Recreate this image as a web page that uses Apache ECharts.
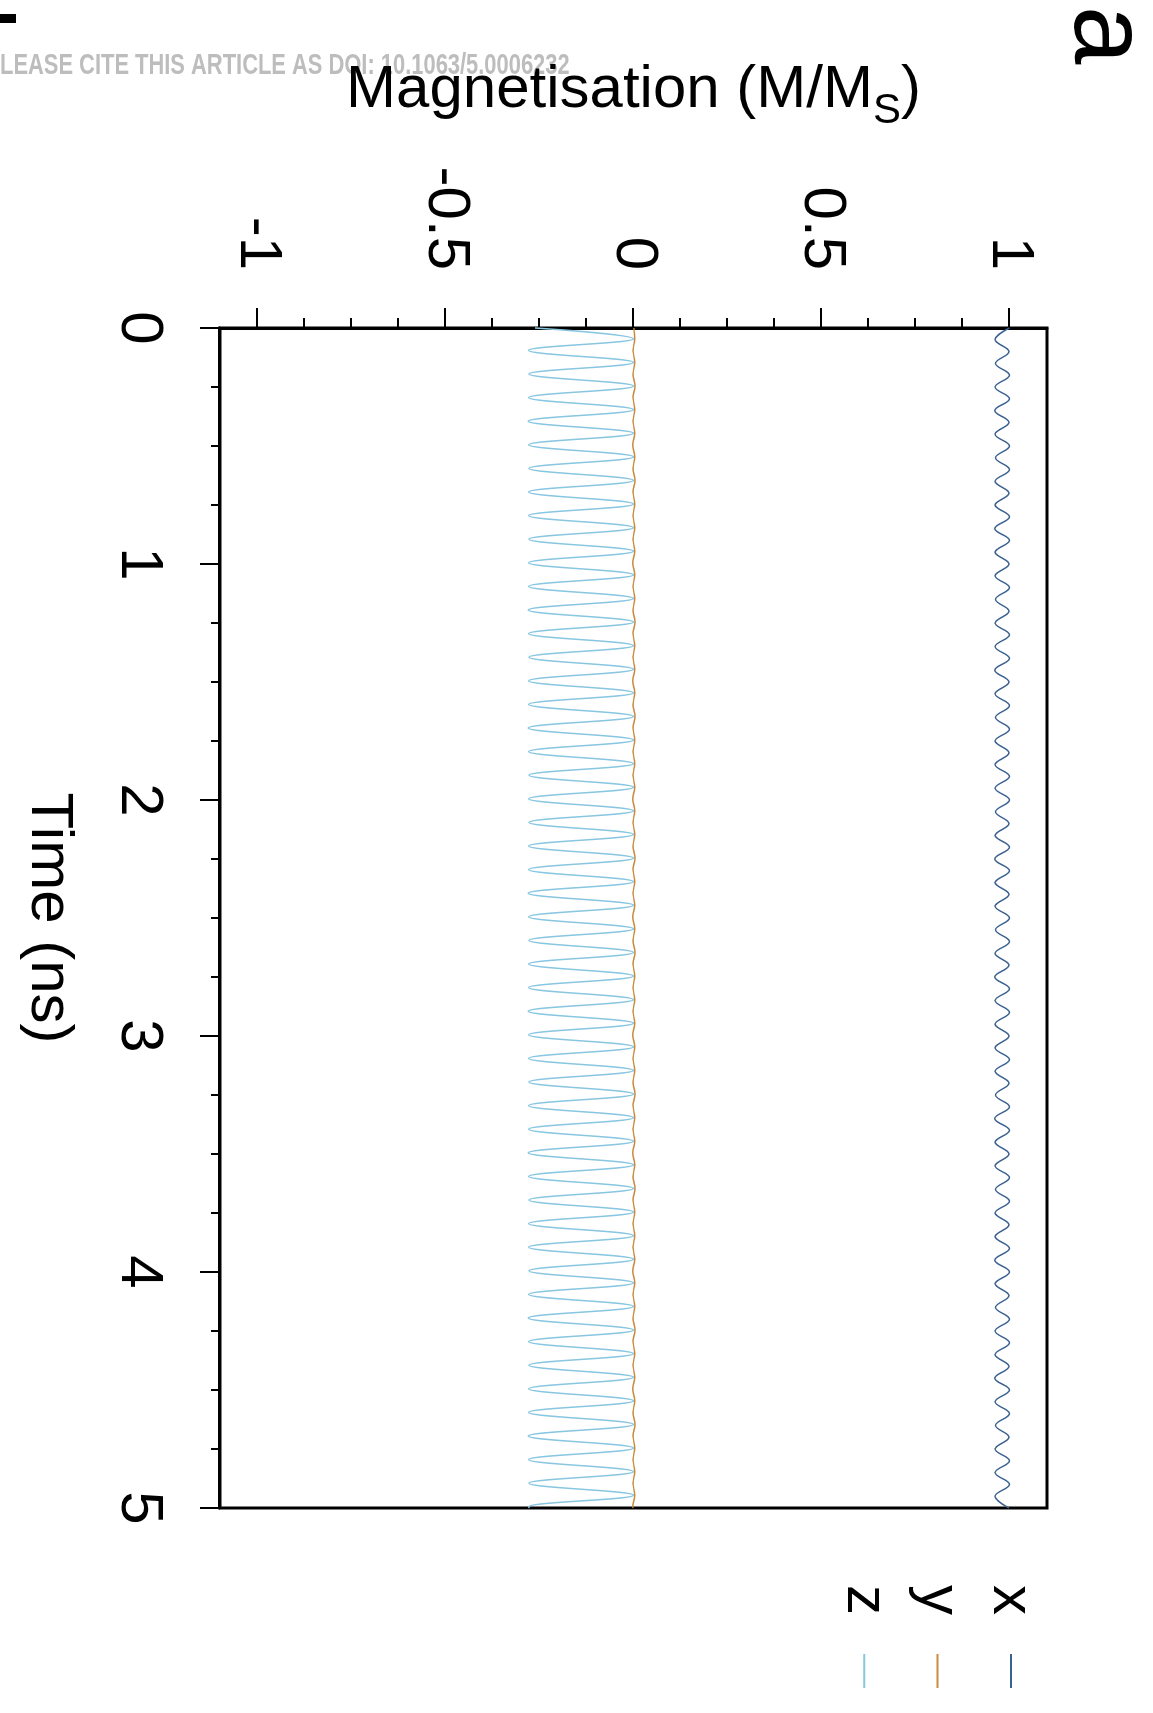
<!DOCTYPE html>
<html>
<head>
<meta charset="utf-8">
<script src="https://cdn.jsdelivr.net/npm/echarts/dist/echarts.min.js"></script>
<style>
html,body{margin:0;padding:0;overflow:hidden;background:#fff;}
#c{position:absolute;left:0;top:0;width:1713px;height:1153px;transform-origin:0 0;transform:translate(1153px,0) rotate(90deg);}
</style>
</head>
<body>
<div id="c"></div>
<script>
// ---- data (time in ns, magnetisation in M/Ms) ----
const seriesNames = ['x', 'y', 'z'];
const seriesColors = ['#3b6190', '#c98b3e', '#88c6e1'];

// turning points of the z and y components
const tZ = [0,
0.046,0.095,0.146,0.195,0.246,0.295,0.346,0.395,0.446,0.495,0.546,0.595,0.646,0.695,0.746,0.795,0.846,0.895,0.946,0.995,
1.046,1.095,1.146,1.195,1.246,1.295,1.346,1.395,1.446,1.495,1.546,1.595,1.646,1.695,1.746,1.795,1.846,1.895,1.946,1.995,
2.046,2.095,2.146,2.195,2.246,2.295,2.346,2.395,2.446,2.495,2.546,2.595,2.646,2.695,2.746,2.795,2.846,2.895,2.946,2.995,
3.046,3.095,3.146,3.195,3.246,3.295,3.346,3.395,3.446,3.495,3.546,3.595,3.646,3.695,3.746,3.795,3.846,3.895,3.946,3.995,
4.046,4.095,4.146,4.195,4.246,4.295,4.346,4.395,4.446,4.495,4.546,4.595,4.646,4.695,4.746,4.795,4.846,4.895,4.946,4.995,
5];
const mz = [-0.262,
0,-0.279,0,-0.278,0,-0.279,0,-0.28,0,-0.279,0,-0.278,0,-0.279,0,-0.279,0,-0.278,0,-0.279,
0,-0.279,0,-0.28,0,-0.279,0,-0.278,0,-0.279,0,-0.279,0,-0.28,0,-0.279,0,-0.278,0,-0.279,
0,-0.278,0,-0.279,0,-0.279,0,-0.28,0,-0.279,0,-0.278,0,-0.279,0,-0.279,0,-0.28,0,-0.279,
0,-0.279,0,-0.278,0,-0.279,0,-0.279,0,-0.28,0,-0.279,0,-0.278,0,-0.279,0,-0.279,0,-0.278,
0,-0.279,0,-0.28,0,-0.279,0,-0.278,0,-0.279,0,-0.279,0,-0.28,0,-0.279,0,-0.278,0,-0.279,
-0.277];
const my = [0.001,
0.003,-0.001,0.003,-0.001,0.004,-0.001,0.003,-0.001,0.003,-0.002,0.003,-0.001,0.004,-0.001,0.003,-0.001,0.003,-0.001,0.003,-0.002,
0.003,-0.001,0.003,-0.001,0.004,-0.001,0.003,-0.001,0.003,-0.002,0.003,-0.001,0.004,-0.001,0.003,-0.001,0.003,-0.001,0.003,-0.002,
0.003,-0.001,0.003,-0.001,0.004,-0.001,0.003,-0.001,0.003,-0.002,0.003,-0.001,0.004,-0.001,0.003,-0.001,0.003,-0.001,0.003,-0.002,
0.003,-0.001,0.003,-0.001,0.004,-0.001,0.003,-0.001,0.003,-0.002,0.003,-0.001,0.004,-0.001,0.003,-0.001,0.003,-0.001,0.003,-0.002,
0.003,-0.001,0.003,-0.001,0.004,-0.001,0.003,-0.001,0.003,-0.002,0.003,-0.001,0.004,-0.001,0.003,-0.001,0.003,-0.001,0.003,-0.002,
-0.001];

// turning points of the x component
const tX = [0,
0.05,0.1,0.15,0.2,0.25,0.3,0.35,0.4,0.45,0.5,0.55,0.6,0.65,0.7,0.75,0.8,0.85,0.9,0.95,1,
1.05,1.1,1.15,1.2,1.25,1.3,1.35,1.4,1.45,1.5,1.55,1.6,1.65,1.7,1.75,1.8,1.85,1.9,1.95,2,
2.05,2.1,2.15,2.2,2.25,2.3,2.35,2.4,2.45,2.5,2.55,2.6,2.65,2.7,2.75,2.8,2.85,2.9,2.95,3,
3.05,3.1,3.15,3.2,3.25,3.3,3.35,3.4,3.45,3.5,3.55,3.6,3.65,3.7,3.75,3.8,3.85,3.9,3.95,4,
4.05,4.1,4.15,4.2,4.25,4.3,4.35,4.4,4.45,4.5,4.55,4.6,4.65,4.7,4.75,4.8,4.85,4.9,4.95,5];
const mx = [1.0,
0.962,0.999,0.963,1.0,0.962,1.0,0.961,0.999,0.962,1.0,0.963,1.0,0.962,0.999,0.962,1.0,0.961,1.0,0.962,0.999,
0.962,1.0,0.963,0.999,0.962,1.0,0.962,1.0,0.961,0.999,0.962,1.0,0.963,1.0,0.962,0.999,0.962,1.0,0.962,1.0,
0.963,0.999,0.962,1.0,0.961,1.0,0.962,0.999,0.962,1.0,0.963,1.0,0.962,0.999,0.961,1.0,0.962,1.0,0.962,0.999,
0.962,1.0,0.962,0.999,0.963,1.0,0.961,1.0,0.962,0.999,0.962,1.0,0.963,1.0,0.962,0.999,0.962,1.0,0.961,1.0,
0.962,0.999,0.963,1.0,0.962,1.0,0.962,0.999,0.961,1.0,0.962,1.0,0.963,0.999,0.962,1.0,0.962,1.0,0.962,0.999];

// axis ticks
const magMajorTicks = [-1, -0.5, 0, 0.5, 1];
const magMinorTicks = [-0.875, -0.75, -0.625, -0.375, -0.25, -0.125, 0.125, 0.25, 0.375, 0.625, 0.75, 0.875];

const FONT = '"Liberation Sans", Arial, Helvetica, sans-serif';

const chart = echarts.init(document.getElementById('c'), null, {renderer: 'canvas', width: 1713, height: 1153});

const pairs = (ts, vs) => ts.map((t, i) => [t, vs[i]]);
const dataFor = {x: pairs(tX, mx), y: pairs(tZ, my), z: pairs(tZ, mz)};

const drawOrder = ['z', 'y', 'x'];
const series = drawOrder.map(n => {
  const c = seriesColors[seriesNames.indexOf(n)];
  return {
    name: n, type: 'line', xAxisIndex: 0, yAxisIndex: 0,
    data: dataFor[n], showSymbol: false, symbol: 'none',
    smooth: 0.4,
    lineStyle: {color: c, width: 1.5},
    itemStyle: {color: c},
    emphasis: {disabled: true}
  };
});

const axisBlack = {color: '#000', width: 2};

chart.setOption({
  animation: false,
  backgroundColor: '#ffffff',
  textStyle: {fontFamily: FONT},
  grid: {left: 328, right: 205, top: 106, bottom: 220, show: true, borderColor: '#000', borderWidth: 3,
         backgroundColor: 'transparent', containLabel: false, outerBoundsMode: 'none'},
  xAxis: {
    type: 'value', min: 0, max: 5, interval: 1, position: 'bottom',
    axisLine: {show: true, onZero: false, lineStyle: {color: '#000', width: 3}},
    axisTick: {show: true, inside: false, length: 20, lineStyle: axisBlack},
    minorTick: {show: true, splitNumber: 4, length: 9, lineStyle: axisBlack},
    axisLabel: {fontSize: 60, color: '#000', margin: 51, lineHeight: 60, fontFamily: FONT},
    splitLine: {show: false}, minorSplitLine: {show: false},
    name: 'Time (ns)', nameLocation: 'middle', nameGap: 141,
    nameTextStyle: {fontSize: 60, color: '#000', lineHeight: 60, fontFamily: FONT}
  },
  yAxis: [{
    type: 'value', min: -1.1, max: 1.1, position: 'left',
    axisLine: {show: true, onZero: false, lineStyle: {color: '#000', width: 3}},
    axisTick: {show: true, inside: false, length: 20, customValues: magMajorTicks, lineStyle: axisBlack},
    axisLabel: {customValues: magMajorTicks, fontSize: 60, color: '#000', margin: 58, fontFamily: FONT,
                formatter: v => String(v)},
    splitLine: {show: false},
    name: '{m|Magnetisation (M/M}{sub|S}{m|)}', nameLocation: 'middle', nameGap: 208,
    nameTextStyle: {fontSize: 60, color: '#000', fontFamily: FONT,
      rich: {
        m: {fontSize: 60, lineHeight: 60, color: '#000', fontFamily: FONT, verticalAlign: 'top'},
        sub: {fontSize: 42, lineHeight: 42, color: '#000', fontFamily: FONT, verticalAlign: 'top', padding: [30, 0, 0, 0]}
      }}
  }, {
    type: 'value', min: -1.1, max: 1.1, position: 'left', offset: 0,
    axisLine: {show: false},
    axisTick: {show: true, inside: false, length: 10, customValues: magMinorTicks, lineStyle: axisBlack},
    axisLabel: {show: false},
    splitLine: {show: false}
  }],
  legend: {
    show: true, orient: 'vertical', align: 'right', right: 20, top: 107, padding: 5,
    itemWidth: 34, itemHeight: 2, itemGap: 13.4, icon: 'rect', selectedMode: false,
    data: seriesNames,
    textStyle: {fontSize: 60, color: '#000', lineHeight: 60, fontFamily: FONT, padding: [0, 34, 0, 0]}
  },
  series: series,
  graphic: [
    {type: 'text', x: 66, y: 1153, rotation: Math.PI / 2, scaleX: 0.73, z: -10,
     style: {text: 'LEASE CITE THIS ARTICLE AS DOI: 10.1063/5.0006232', font: 'bold 30px ' + FONT,
             fill: '#bdbdbd', textAlign: 'left', textVerticalAlign: 'middle', align: 'left', verticalAlign: 'middle'}},
    {type: 'text', x: 6, y: 49,
     style: {text: 'a', font: '105px ' + FONT, fill: '#000', textAlign: 'left', textVerticalAlign: 'middle', align: 'left', verticalAlign: 'middle'}},
    {type: 'rect', shape: {x: 14, y: 1137, width: 9, height: 16}, style: {fill: '#000'}}
  ]
});
</script>
</body>
</html>
